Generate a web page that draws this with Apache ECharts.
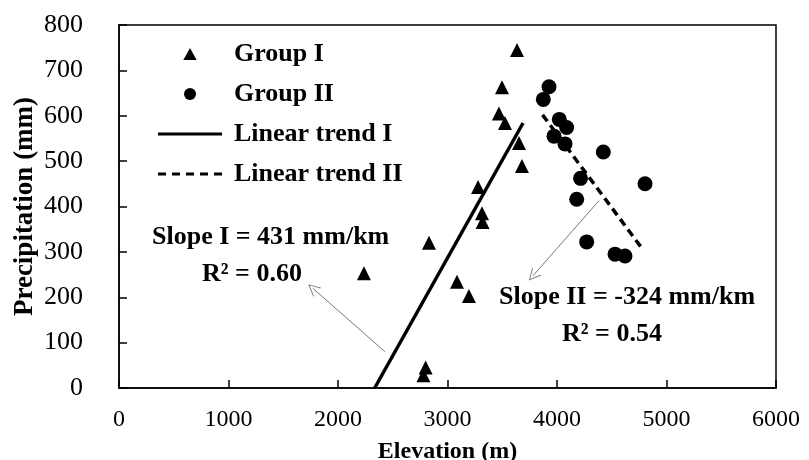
<!DOCTYPE html>
<html>
<head>
<meta charset="utf-8">
<script src="https://cdn.jsdelivr.net/npm/echarts@6/dist/echarts.min.js"></script>
<style>
  html, body { margin: 0; padding: 0; background: #fff; }
  #chart { width: 809px; height: 460px; }
</style>
</head>
<body>
<div id="chart"></div>
<script>
// elevation (m), precipitation (mm)
const groupI = [
  [2237, 253], [2780, 28], [2800, 45], [2831, 320], [3087, 234],
  [3196, 203], [3279, 443], [3315, 385], [3320, 366], [3470, 605],
  [3498, 663], [3525, 584], [3635, 745], [3653, 540], [3680, 489]
];
const groupII = [
  [3927, 664], [3875, 636], [4021, 592], [4088, 574], [3973, 555],
  [4073, 538], [4423, 520], [4215, 462], [4804, 450], [4180, 416],
  [4271, 322], [4530, 295], [4621, 291]
];
// fitted trend line end points
const trendI = [[2335, 0], [3690, 584]];
const trendII = [[3868, 602], [4788, 304]];
// annotation arrows: [from, to]
const arrowI = [[2429, 80], [1769, 220]];
const arrowII = [[4384, 413], [3779, 247]];

const serif = "'Liberation Serif', 'Times New Roman', serif";
const chevron = "path://M0,0 L6,12 L5,12 L0,2 L-5,12 L-6,12 Z";
// legend icons (keep aspect inside the 64x12 box)
const triIcon = "path://M5,0 L10,9 L0,9 Z";
const solidIcon = "path://M0,0 L64,0 L64,3 L0,3 Z";
const dashIcon = "path://M0,0 L8,0 L8,3 L0,3 Z M14,0 L22,0 L22,3 L14,3 Z M28,0 L36,0 L36,3 L28,3 Z M42,0 L50,0 L50,3 L42,3 Z M56,0 L64,0 L64,3 L56,3 Z";

const chart = echarts.init(document.getElementById("chart"));

function arrowLine(pts) {
  return {
    silent: true,
    symbol: ["none", chevron],
    symbolSize: 12,
    label: { show: false },
    lineStyle: { color: "#777", width: 1, type: "solid" },
    emphasis: { disabled: true },
    data: [[{ coord: pts[0] }, { coord: pts[1] }]]
  };
}

const option = {
  animation: false,
  grid: {
    left: 119, right: 33, top: 25, bottom: 72,
    outerBoundsMode: "none",
    show: true, borderColor: "#000", borderWidth: 1.5
  },
  legend: {
    orient: "vertical",
    left: 153,
    top: 36,
    itemWidth: 64,
    itemHeight: 12,
    itemGap: 14,
    itemStyle: { color: "#000", opacity: 1 },
    textStyle: {
      fontFamily: serif, fontWeight: "bold", fontSize: 26, color: "#000",
      padding: [0, 0, 0, 7]
    },
    data: [
      { name: "Group I", icon: triIcon },
      { name: "Group II", icon: "circle" },
      { name: "Linear trend I", icon: solidIcon },
      { name: "Linear trend II", icon: dashIcon }
    ]
  },
  xAxis: {
    type: "value",
    min: 0, max: 6000, interval: 1000,
    name: "Elevation (m)",
    nameLocation: "middle",
    nameGap: 52,
    nameMoveOverlap: false,
    nameTextStyle: { fontFamily: serif, fontWeight: "bold", fontSize: 24, color: "#000" },
    axisLine: { lineStyle: { color: "#000", width: 1.5 } },
    axisTick: { inside: true, length: 8, lineStyle: { color: "#000", width: 1.5 } },
    axisLabel: {
      margin: 20, fontFamily: serif, fontSize: 24, color: "#000",
      formatter: (v) => String(v)
    },
    splitLine: { show: false }
  },
  yAxis: {
    type: "value",
    min: 0, max: 800, interval: 100,
    name: "Precipitation (mm)",
    nameLocation: "middle",
    nameRotate: 90,
    nameGap: 80,
    nameMoveOverlap: false,
    nameTextStyle: { fontFamily: serif, fontWeight: "bold", fontSize: 27, color: "#000" },
    axisLine: { show: true, lineStyle: { color: "#000", width: 1.5 } },
    axisTick: { show: true, inside: true, length: 8, lineStyle: { color: "#000", width: 1.5 } },
    axisLabel: { margin: 36, fontFamily: serif, fontSize: 26, color: "#000" },
    splitLine: { show: false }
  },
  series: [
    {
      name: "Group I", type: "scatter", symbol: "triangle", symbolSize: 14,
      itemStyle: { color: "#000", opacity: 1 }, data: groupI
    },
    {
      name: "Group II", type: "scatter", symbol: "circle", symbolSize: 15,
      itemStyle: { color: "#000", opacity: 1 }, data: groupII
    },
    {
      name: "Linear trend I", type: "line", symbol: "none",
      lineStyle: { color: "#000", width: 3.5 }, itemStyle: { color: "#000" },
      data: trendI, markLine: arrowLine(arrowI)
    },
    {
      name: "Linear trend II", type: "line", symbol: "none",
      lineStyle: { color: "#000", width: 3.5, type: [8, 5] }, itemStyle: { color: "#000" },
      data: trendII, markLine: arrowLine(arrowII)
    }
  ],
  graphic: [
    { type: "text", left: 152, top: 224,
      style: { text: "Slope I = 431 mm/km", font: "bold 26px " + serif, fill: "#000" } },
    { type: "text", left: 202, top: 261,
      style: { text: "R\u00b2 = 0.60", font: "bold 26px " + serif, fill: "#000" } },
    { type: "text", left: 499, top: 284,
      style: { text: "Slope II = -324 mm/km", font: "bold 26px " + serif, fill: "#000" } },
    { type: "text", left: 562, top: 321,
      style: { text: "R\u00b2 = 0.54", font: "bold 26px " + serif, fill: "#000" } }
  ]
};

chart.setOption(option);
</script>
</body>
</html>
